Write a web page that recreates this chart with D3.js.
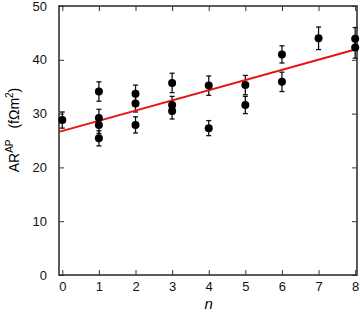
<!DOCTYPE html>
<html>
<head>
<meta charset="utf-8">
<script src="https://d3js.org/d3.v7.min.js"></script>
<style>
  body { margin: 0; background: #fff; }
  text { font-family: "Liberation Sans", Arial, sans-serif; }
</style>
</head>
<body>
<div id="chart"></div>
<script>
// measured points: layer count n, value, error
var nValues   = [0, 1, 1, 1, 1, 2, 2, 2, 3, 3, 3, 4, 4, 5, 5, 6, 6, 7, 8, 8];
var arValues  = [28.8, 34.1, 29.2, 27.9, 25.4, 33.7, 31.9, 27.9, 35.7, 31.6, 30.5, 35.2, 27.3, 35.3, 31.6, 41.0, 35.9, 44.0, 43.9, 42.3];
var arErrors  = [1.5, 1.8, 1.6, 1.6, 1.4, 1.6, 1.6, 1.5, 1.8, 1.6, 1.5, 1.8, 1.4, 1.8, 1.6, 1.6, 1.8, 2.1, 2.1, 2.0];
// linear fit endpoints
var fitN = [-0.09, 8.05];
var fitV = [26.6, 42.0];
var xTicks = [0, 1, 2, 3, 4, 5, 6, 7, 8];
var yTicks = [0, 10, 20, 30, 40, 50];

var W = 360, H = 312;
var L = 59, R = 357, T = 6, B = 275;

var svg = d3.select("#chart").append("svg")
  .attr("width", W).attr("height", H);

var x = d3.scaleLinear().domain([-0.09, 8.05]).range([L, R]);
var y = d3.scaleLinear().domain([0, 50]).range([B, T]);

var axisColor = "#333";

// ticks on all four sides, pointing inward
svg.append("g").attr("transform", "translate(0," + B + ")")
  .call(d3.axisBottom(x).tickValues(xTicks).tickSize(-5).tickPadding(6.5).tickFormat(d3.format("d")));
svg.append("g").attr("transform", "translate(0," + T + ")")
  .call(d3.axisTop(x).tickValues(xTicks).tickSize(-5).tickFormat(""));
svg.append("g").attr("transform", "translate(" + L + ",0)")
  .call(d3.axisLeft(y).tickValues(yTicks).tickSize(-5).tickPadding(12));
svg.append("g").attr("transform", "translate(" + R + ",0)")
  .call(d3.axisRight(y).tickValues(yTicks).tickSize(-5).tickFormat(""));

svg.selectAll(".domain").remove();
svg.selectAll(".tick line").attr("stroke", axisColor).attr("stroke-width", 1);
svg.selectAll(".tick text").attr("fill", "#111").style("font-size", "13px");

svg.append("rect")
  .attr("x", L).attr("y", T).attr("width", R - L).attr("height", B - T)
  .attr("fill", "none").attr("stroke", axisColor).attr("stroke-width", 1.6);

// error bars
var pts = nValues.map(function (n, i) { return { n: n, v: arValues[i], e: arErrors[i] }; });
var eb = svg.append("g").attr("stroke", "#111").attr("stroke-width", 1.3);
pts.forEach(function (d) {
  var cx = x(d.n);
  eb.append("line").attr("x1", cx).attr("x2", cx).attr("y1", y(d.v - d.e)).attr("y2", y(d.v + d.e));
  eb.append("line").attr("x1", cx - 2.5).attr("x2", cx + 2.5).attr("y1", y(d.v - d.e)).attr("y2", y(d.v - d.e));
  eb.append("line").attr("x1", cx - 2.5).attr("x2", cx + 2.5).attr("y1", y(d.v + d.e)).attr("y2", y(d.v + d.e));
});

// fit line
svg.append("path")
  .datum(fitN.map(function (n, i) { return [n, fitV[i]]; }))
  .attr("fill", "none").attr("stroke", "#e8130f").attr("stroke-width", 2)
  .attr("d", d3.line().x(function (d) { return x(d[0]); }).y(function (d) { return y(d[1]); }));

// points
svg.append("g").selectAll("circle").data(pts).enter().append("circle")
  .attr("cx", function (d) { return x(d.n); })
  .attr("cy", function (d) { return y(d.v); })
  .attr("r", 4).attr("fill", "#000");

// axis labels
svg.append("text")
  .attr("x", x(4)).attr("y", 308.5)
  .attr("text-anchor", "middle")
  .style("font-size", "15px").style("font-style", "italic")
  .text("n");

var yl = svg.append("text")
  .attr("transform", "translate(19,130) rotate(-90)")
  .attr("text-anchor", "middle")
  .style("font-size", "14px");
yl.append("tspan").text("AR");
yl.append("tspan").attr("dy", -6).style("font-size", "10px").text("AP");
yl.append("tspan").attr("dy", 6).text("\u2002 (f\u03A9m");
yl.append("tspan").attr("dy", -6).style("font-size", "10px").text("2");
yl.append("tspan").attr("dy", 6).text(")");
</script>
</body>
</html>
